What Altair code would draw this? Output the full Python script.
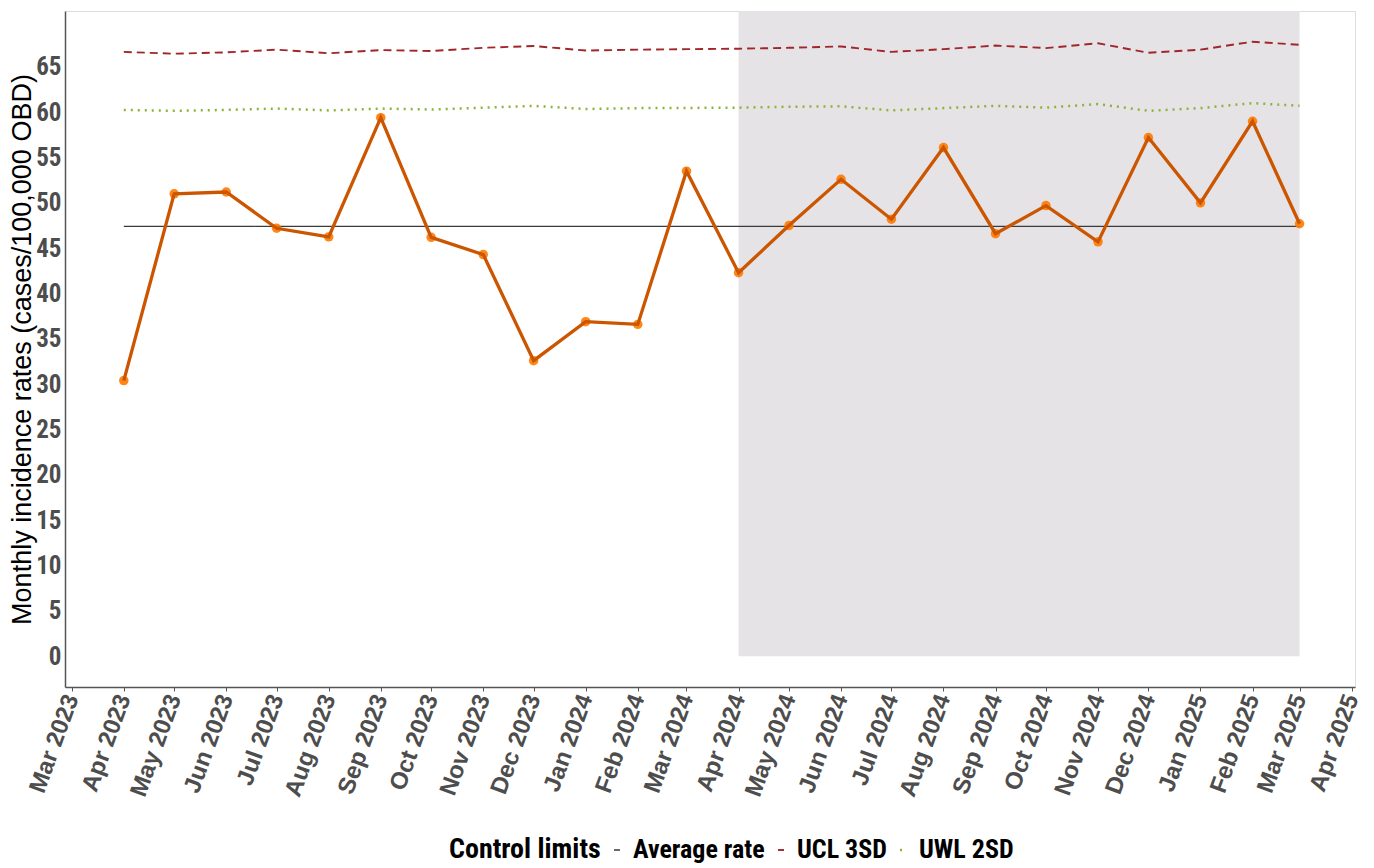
import altair as alt
import pandas as pd

# ---------------- data ----------------
months = [
    "2023-04-01", "2023-05-01", "2023-06-01", "2023-07-01", "2023-08-01", "2023-09-01",
    "2023-10-01", "2023-11-01", "2023-12-01", "2024-01-01", "2024-02-01", "2024-03-01",
    "2024-04-01", "2024-05-01", "2024-06-01", "2024-07-01", "2024-08-01", "2024-09-01",
    "2024-10-01", "2024-11-01", "2024-12-01", "2025-01-01", "2025-02-01", "2025-03-01",
]
rates = [30.4, 51.0, 51.2, 47.2, 46.25, 59.4, 46.2, 44.3, 32.6, 36.9, 36.6, 53.5,
         42.3, 47.5, 52.6, 48.2, 56.1, 46.6, 49.7, 45.7, 57.2, 50.0, 59.0, 47.7]
ucl = [66.65, 66.45, 66.6, 66.9, 66.5, 66.85, 66.75, 67.1, 67.3, 66.8, 66.9, 66.95,
       67.0, 67.1, 67.25, 66.65, 66.95, 67.35, 67.07, 67.6, 66.55, 66.9, 67.77, 67.43]
uwl = [60.25, 60.15, 60.25, 60.4, 60.2, 60.4, 60.3, 60.5, 60.7, 60.35, 60.45, 60.47,
       60.5, 60.6, 60.65, 60.2, 60.45, 60.7, 60.5, 60.9, 60.15, 60.45, 61.0, 60.7]
average_rate = 47.4

series_names = ["Average rate", "UCL 3SD", "UWL 2SD"]
series_colors = ["#3a3a3a", "#a0262a", "#8db33a"]

shade_start = ["2024-04-01"]
shade_end = ["2025-03-01"]
shade_low = [0]
shade_high = [71.16]

y_ticks = [0, 5, 10, 15, 20, 25, 30, 35, 40, 45, 50, 55, 60, 65]
tick_months = [(2023, m) for m in range(3, 13)] + [(2024, m) for m in range(1, 13)] + [(2025, m) for m in range(1, 5)]

# ---------------- tables ----------------
rates_df = pd.DataFrame({"date": months, "rate": rates})
limits_df = pd.concat([
    pd.DataFrame({"date": months, "value": [average_rate] * len(months), "series": series_names[0]}),
    pd.DataFrame({"date": months, "value": ucl, "series": series_names[1]}),
    pd.DataFrame({"date": months, "value": uwl, "series": series_names[2]}),
], ignore_index=True)
shade_df = pd.DataFrame({"start": shade_start, "end": shade_end, "low": shade_low, "high": shade_high})

narrow = "Liberation Sans Narrow, Roboto Condensed, DejaVu Sans Condensed, sans-serif"
wide = "Liberation Sans, Arimo, Arial, DejaVu Sans, sans-serif"

x_scale = alt.Scale(
    type="utc",
    domain=[alt.DateTime(year=2023, month=2, date=25, utc=True),
            alt.DateTime(year=2025, month=4, date=3, utc=True)],
)
y_scale = alt.Scale(domain=[-3.39, 71.16], nice=False, zero=False)

x_axis = alt.Axis(
    values=[alt.DateTime(year=y, month=m, date=1, utc=True) for y, m in tick_months],
    format="%b %Y", labelAngle=290, labelAlign="right", labelBaseline="middle",
    labelFont=wide, labelFontSize=24, labelFontWeight="bold", labelColor="#4d4d4d",
    labelPadding=4, tickSize=4, tickColor="#555555", domainColor="#555555", domainWidth=1.5,
    grid=False, title=None, labelOverlap=False, labelFlush=False,
)
y_axis = alt.Axis(
    values=y_ticks, ticks=False, grid=False,
    labelFont=narrow, labelFontSize=25, labelFontWeight="bold", labelColor="#4d4d4d",
    labelPadding=4, domainColor="#555555", domainWidth=1.5,
    title="Monthly incidence rates (cases/100,000 OBD)", titleFont=wide,
    titleFontSize=27, titleFontWeight="normal", titleColor="#000000", titlePadding=-1,
)

shade = alt.Chart(shade_df).mark_rect(color="#e5e3e6").encode(
    x=alt.X("start:T", scale=x_scale, axis=x_axis),
    x2="end:T",
    y=alt.Y("low:Q", scale=y_scale, axis=y_axis),
    y2="high:Q",
)

limits = alt.Chart(limits_df).mark_line().encode(
    x=alt.X("date:T", scale=x_scale),
    y=alt.Y("value:Q", scale=y_scale),
    color=alt.Color("series:N", scale=alt.Scale(domain=series_names, range=series_colors),
                    legend=alt.Legend(
                        title="Control limits", orient="none", legendX=384, legendY=826,
                        direction="horizontal", titleOrient="left", padding=0,
                        titleFont=narrow, titleFontSize=28, titleFontWeight="bold", titleColor="#000000",
                        labelFont=narrow, labelFontSize=26, labelFontWeight="bold", labelColor="#000000",
                        symbolType="stroke", symbolSize=36, symbolStrokeWidth=2,
                        columnPadding=3, labelOffset=3, titlePadding=3,
                    )),
    strokeDash=alt.StrokeDash("series:N", scale=alt.Scale(domain=series_names,
                                                         range=[[1, 0], [8, 5], [2, 5]])),
    strokeWidth=alt.StrokeWidth("series:N", scale=alt.Scale(domain=series_names, range=[1.3, 2.5, 2.2]),
                                legend=None),
)

points = alt.Chart(rates_df).mark_point(filled=True, size=90, color="#ff7a00", opacity=0.9).encode(
    x=alt.X("date:T", scale=x_scale),
    y=alt.Y("rate:Q", scale=y_scale),
)
line = alt.Chart(rates_df).mark_line(color="#cc5500", strokeWidth=3.3).encode(
    x=alt.X("date:T", scale=x_scale),
    y=alt.Y("rate:Q", scale=y_scale),
)

chart = alt.layer(shade, limits, points, line).properties(
    width=1290, height=676,
    padding={"left": 0, "top": 3, "right": 0, "bottom": 0},
).configure_view(stroke=None).configure(background="white")

chart.save("out.html", embed_options={"renderer": "svg", "actions": False})
